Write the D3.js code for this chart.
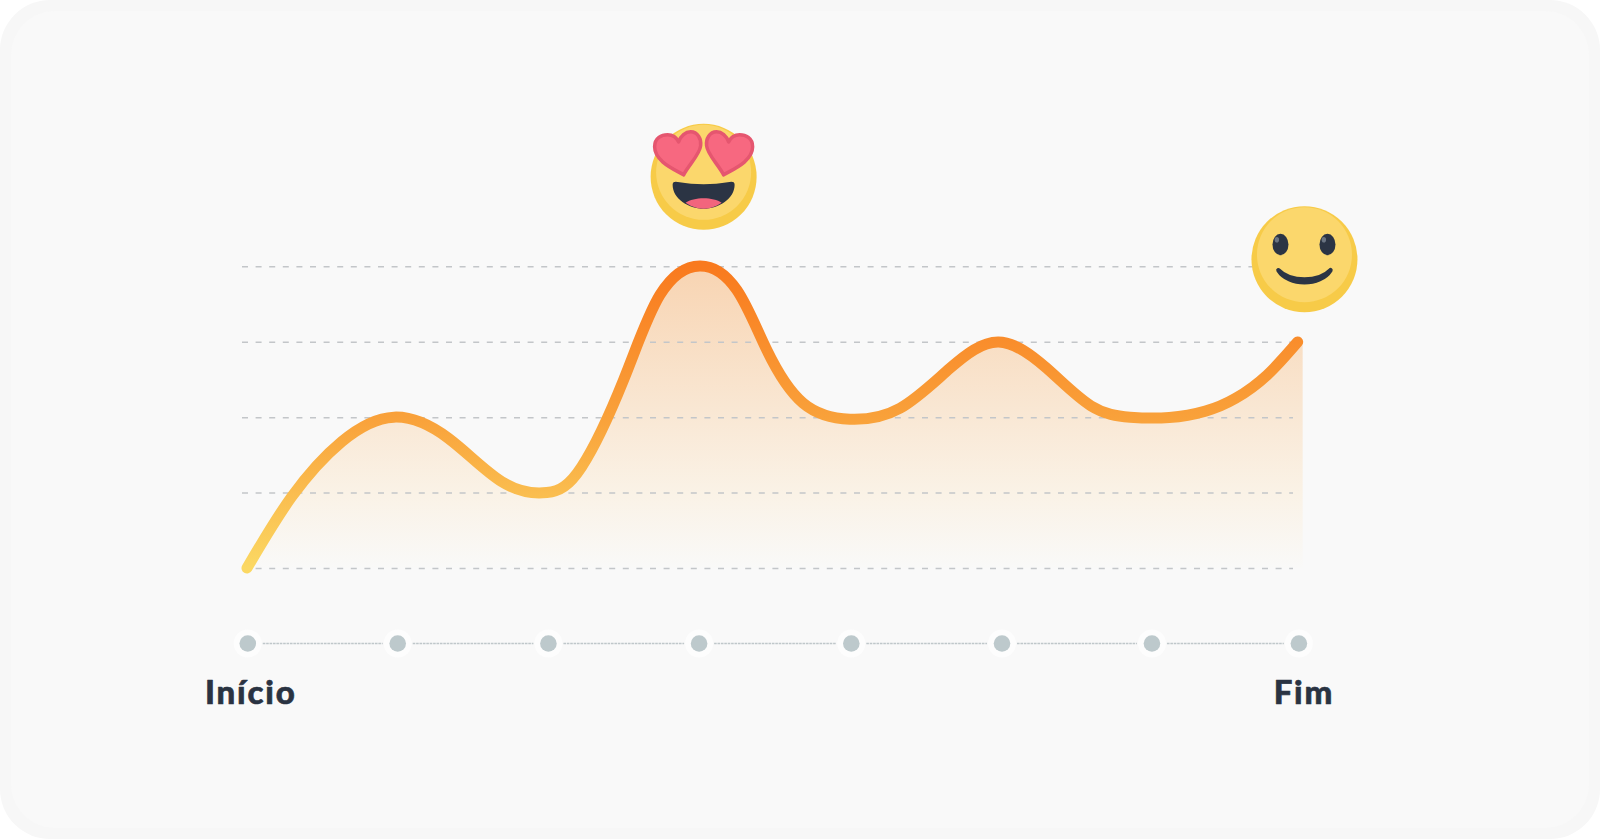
<!DOCTYPE html>
<html lang="pt">
<head>
<meta charset="utf-8">
<title>Curva de emoção</title>
<style>
html, body { margin: 0; padding: 0; background: #fff; }
svg { display: block; }
.grid path { display: none; }
.grid line { stroke: #c3c6c9; stroke-width: 1.5; stroke-dasharray: 6 7.6; }
.track { stroke: #bfc7ca; stroke-width: 1.5; stroke-dasharray: 2.6 .8; }
.label { font: 900 33px Lato, sans-serif; fill: #2a3342; stroke: #2a3342; stroke-width: .6; stroke-linejoin: round; text-anchor: middle; letter-spacing: 1.8px; }
</style>
</head>
<body>
<div id="chart"></div>
<script src="https://d3js.org/d3.v7.min.js"></script>
<script>
// values: x in steps along the track, y in grid levels
var steps = [0.005, 1, 2, 3, 4.01, 5.01, 6.005, 6.98];
var stepLabels = ["Início", "Fim"];
var levels = [0, 1, 2, 3, 4];
var curveSteps = [0, 0.297, 0.628, 0.975, 1.336, 1.69, 1.989, 2.221, 2.5, 2.74, 3.005, 3.25, 3.449, 3.691, 4.001, 4.333, 4.665, 4.985, 5.306, 5.6, 5.86, 6.12, 6.36, 6.56, 6.77, 6.972];
var curveLevels = [0, 0.946, 1.675, 2, 1.72, 1.145, 1, 1.344, 2.5, 3.62, 4.005, 3.687, 2.891, 2.184, 1.972, 2.118, 2.649, 2.997, 2.649, 2.15, 2, 1.995, 2.08, 2.25, 2.56, 2.997];
var areaEndStep = 7.005;
var areaEndLevel = 2.957;
var emojiSteps = [3.03, 7.017];
var emojiLevels = [5.186, 4.094];

var W = 1600, H = 839;
var x = d3.scaleLinear().domain([0, 7]).range([247, 1301.9]);
var y = d3.scaleLinear().domain([0, 4]).range([568, 266.3]);

var svg = d3.select("#chart").append("svg")
  .attr("width", W)
  .attr("height", H);

var defs = svg.append("defs");

var lineGrad = defs.append("linearGradient")
  .attr("id", "lineGrad")
  .attr("gradientUnits", "userSpaceOnUse")
  .attr("x1", 0).attr("x2", 0)
  .attr("y1", y(4)).attr("y2", y(0));
lineGrad.append("stop").attr("offset", 0).attr("stop-color", "#f97a1e");
lineGrad.append("stop").attr("offset", 0.5).attr("stop-color", "#f9a13a");
lineGrad.append("stop").attr("offset", 1).attr("stop-color", "#fbd863");

var areaGrad = defs.append("linearGradient")
  .attr("id", "areaGrad")
  .attr("gradientUnits", "userSpaceOnUse")
  .attr("x1", 0).attr("x2", 0)
  .attr("y1", y(4)).attr("y2", y(0));
areaGrad.append("stop").attr("offset", 0).attr("stop-color", "#f8d4b2");
areaGrad.append("stop").attr("offset", 0.5).attr("stop-color", "#f9e8d5");
areaGrad.append("stop").attr("offset", 0.75).attr("stop-color", "#faf2e6");
areaGrad.append("stop").attr("offset", 1).attr("stop-color", "#f9f9f8");

// card
svg.append("rect").attr("width", W).attr("height", H)
  .attr("rx", 50).attr("fill", "#f7f7f7");
svg.append("rect").attr("x", 11).attr("y", 11)
  .attr("width", W - 22).attr("height", H - 22)
  .attr("rx", 44).attr("fill", "#f9f9f9");

var curve = curveSteps.map(function (s, i) { return [s, curveLevels[i]]; });
var curveLine = d3.line()
  .x(function (d) { return x(d[0]); })
  .y(function (d) { return y(d[1]); })
  .curve(d3.curveNatural);

// area first, the dashed grid shows through it
svg.append("path")
  .attr("d", curveLine(curve) + "L" + x(areaEndStep) + "," + y(areaEndLevel) + "L" + x(areaEndStep) + "," + y(0) + "L" + x(0) + "," + y(0) + "Z")
  .attr("fill", "url(#areaGrad)");

svg.append("g")
  .attr("class", "grid")
  .attr("transform", "translate(242,0)")
  .call(d3.axisLeft(y).tickValues(levels).tickSize(-1051).tickFormat(""));

svg.append("path")
  .attr("d", curveLine(curve))
  .attr("fill", "none")
  .attr("stroke", "url(#lineGrad)")
  .attr("stroke-width", 11)
  .attr("stroke-linecap", "round");

// track under the chart
var trackY = 643.5;
svg.selectAll(".track").data(d3.pairs(steps)).enter().append("line")
  .attr("class", "track")
  .attr("x1", function (d) { return x(d[0]) + 15; })
  .attr("x2", function (d) { return x(d[1]) - 15; })
  .attr("y1", trackY).attr("y2", trackY);
svg.selectAll(".halo").data(steps).enter().append("circle")
  .attr("class", "halo")
  .attr("cx", function (d) { return x(d); })
  .attr("cy", trackY).attr("r", 14).attr("fill", "#fdfdfd");
svg.selectAll(".dot").data(steps).enter().append("circle")
  .attr("class", "dot")
  .attr("cx", function (d) { return x(d); })
  .attr("cy", trackY).attr("r", 8.3).attr("fill", "#bdc9cc");

svg.append("text").attr("class", "label")
  .attr("x", x(steps[0]) + 3).attr("y", 704).text(stepLabels[0]);
svg.append("text").attr("class", "label")
  .attr("x", x(steps[7]) + 5).attr("y", 704).text(stepLabels[1]);

// emojis
function face(cx, cy) {
  var g = svg.append("g").attr("transform", "translate(" + cx + "," + cy + ")");
  g.append("circle").attr("r", 53).attr("fill", "#f7cb48");
  g.append("circle").attr("cy", -4.5).attr("r", 47.5).attr("fill", "#fbd76c");
  return g;
}

var love = face(x(emojiSteps[0]), y(emojiLevels[0]));
var heart = "M-20,-2C-28,-7 -49,-15 -49,-30C-49,-39 -42,-42 -36,-42C-31,-42 -27,-39 -25,-35C-23,-41 -18,-45 -13,-45C-6,-45 -2,-38 -3,-31C-4,-22 -15,-12 -20,-2Z";
[1, -1].forEach(function (side) {
  love.append("path")
    .attr("d", heart)
    .attr("transform", "scale(" + side + ",1)")
    .attr("fill", "#f76880")
    .attr("stroke", "#e5566f")
    .attr("stroke-width", 3.5)
    .attr("stroke-linejoin", "round");
});
love.append("path")
  .attr("d", "M-31,8C-31,4 -27,5 -24,5.5C-10,8 10,8 24,5.5C27,5 31,4 31,8C31,22 15,32 0,32C-15,32 -31,22 -31,8Z")
  .attr("fill", "#2b3444");
love.append("path")
  .attr("d", "M-18,26C-10,20 10,20 18,26C12,30 6,32 0,32C-6,32 -12,30 -18,26Z")
  .attr("fill", "#f2657d");

var smile = face(x(emojiSteps[1]), y(emojiLevels[1]));
[-24, 23].forEach(function (dx) {
  smile.append("ellipse")
    .attr("cx", dx).attr("cy", -14.7)
    .attr("rx", 8).attr("ry", 10.7)
    .attr("fill", "#2b3444");
  smile.append("ellipse")
    .attr("cx", dx - 3.6).attr("cy", -19.5)
    .attr("rx", 2.2).attr("ry", 2.8)
    .attr("fill", "#6a7482");
});
smile.append("path")
  .attr("d", "M-26,11C-14,23.3 14,23.3 26,11C16,27 -16,27 -26,11Z")
  .attr("fill", "#2b3444")
  .attr("stroke", "#2b3444")
  .attr("stroke-width", 4.5)
  .attr("stroke-linejoin", "round");
</script>
</body>
</html>
